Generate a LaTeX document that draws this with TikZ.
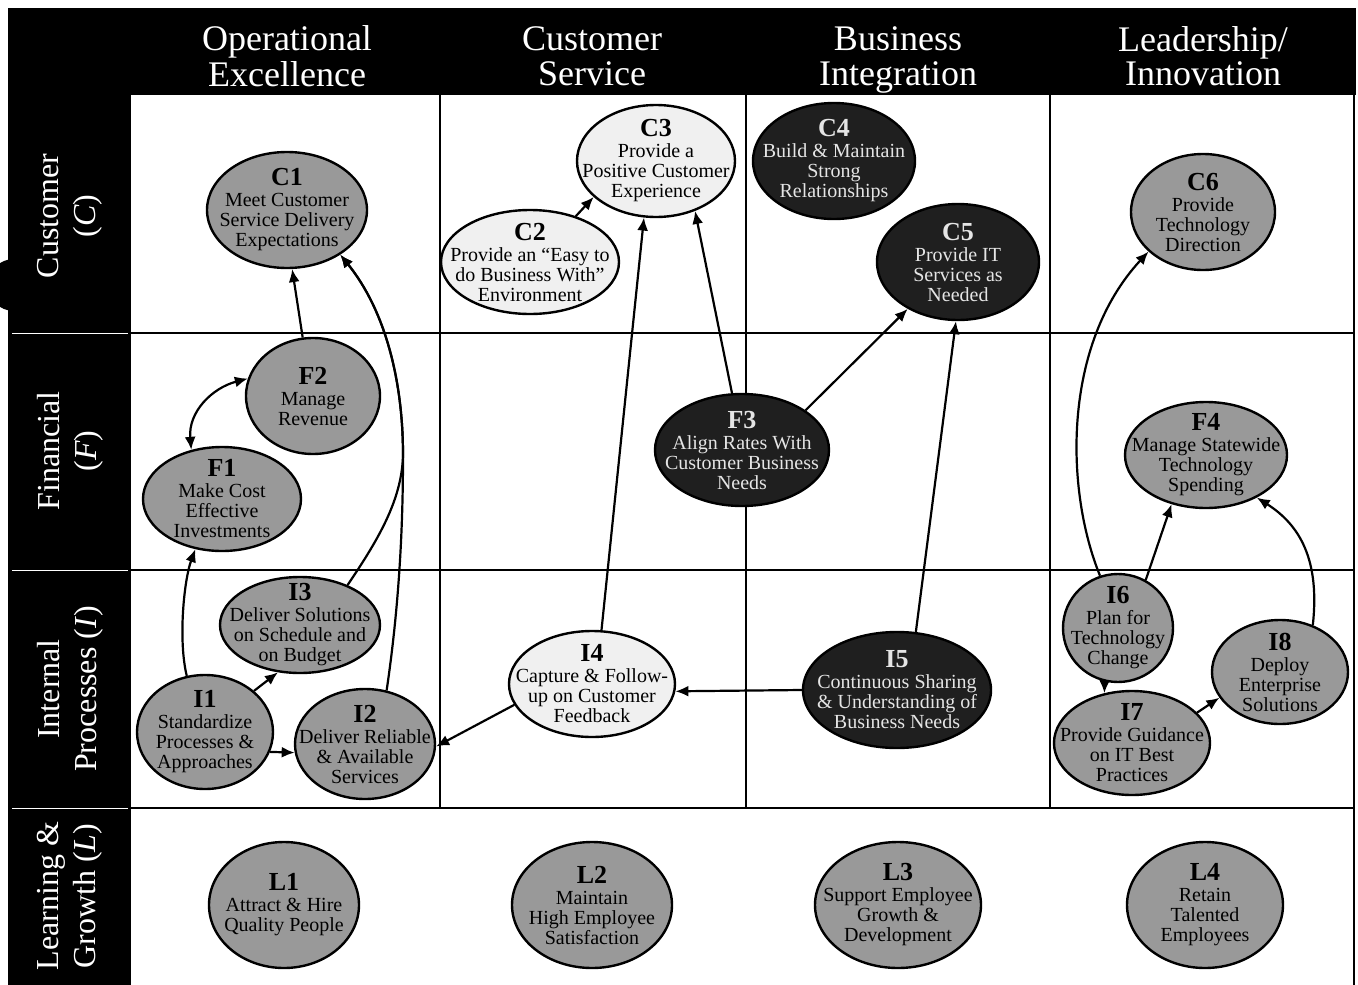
\documentclass[tikz,border=0pt]{standalone}
\usepackage{fontspec}
\setmainfont{Liberation Serif}
\usetikzlibrary{shapes.geometric,arrows.meta}
\newcommand{\lb}[1]{{\fontsize{26}{26}\selectfont\bfseries #1}\\[1pt]}
\begin{document}
\begin{tikzpicture}[x=1pt,y=-1pt,
  obj/.style={ellipse, draw=black, line width=2.4pt, inner sep=0pt},
  midnode/.style={obj, fill=black!40},
  darknode/.style={obj, fill=black!88},
  lightnode/.style={obj, fill=black!6},
  sz/.style 2 args={minimum width=#1pt, minimum height=#2pt},
  txt/.style={align=center, inner sep=0pt, font=\fontsize{20}{20}\selectfont},
  txtd/.style={txt, text=black!10},
  arr/.style={line width=2.2pt, -{Latex[length=13pt,width=11pt]}},
  darr/.style={line width=2.2pt, {Latex[length=13pt,width=11pt]}-{Latex[length=13pt,width=11pt]}},
  gridline/.style={line width=1.4pt},
  hdr/.style={text=white, font=\fontsize{36}{33}\selectfont, align=center, inner sep=0pt},
  rowlab/.style={text=white, font=\fontsize{32}{37}\selectfont, align=center, rotate=90, inner sep=0pt}
]
\useasboundingbox (0,0) rectangle (1358,985);
\fill[white] (0,0) rectangle (1358,985);

% header band and left column
\fill[black] (8,8) rectangle (1356,95);
\fill[black] (8,95) rectangle (129,985);
\fill[black] (14,285) circle (26);
\foreach \yy in {333,570,808} \draw[white, line width=1pt] (12,\yy) -- (128,\yy);

% grid
\draw[gridline] (130,95) -- (130,985);
\draw[gridline] (1354,95) -- (1354,985);
\foreach \yy in {333,570,808} \draw[gridline] (129,\yy) -- (1354,\yy);
\foreach \xx in {440,746,1050} \draw[gridline] (\xx,95) -- (\xx,808);

% headers
\node[hdr] (h1) at (287,61) {Operational\strut\\Excellence\strut};
\node[hdr] (h2) at (592,61) {Customer\strut\\Service\strut};
\node[hdr] (h3) at (898,61) {Business\strut\\Integration\strut};
\node[hdr] (h4) at (1203,61) {Leadership/\strut\\Innovation\strut};

% row labels
\node[rowlab] (r1) at (70,216) {Customer\\(\textit{C})};
\node[rowlab] (r2) at (70,451) {Financial\\(\textit{F})};
\node[rowlab] (r3) at (70,689) {Internal\\Processes (\textit{I})};
\node[rowlab] (r4) at (70,896) {Learning \&\\Growth (\textit{L})};

% customer row
\node[midnode, sz={160}{116}] (C1) at (287,210) {};
\node[txt] (C1t) at (C1) {\lb{C1}Meet Customer\\Service Delivery\\Expectations};
\node[lightnode, sz={178}{104}] (C2) at (530,262) {};
\node[txt] (C2t) at (C2) {\lb{C2}Provide an “Easy to\\do Business With”\\Environment};
\node[lightnode, sz={158}{112}] (C3) at (656,161) {};
\node[txt] (C3t) at (C3) {\lb{C3}Provide a\\Positive Customer\\Experience};
\node[darknode, sz={162}{116}] (C4) at (834,161) {};
\node[txtd] (C4t) at (C4) {\lb{C4}Build \& Maintain\\Strong\\Relationships};
\node[darknode, sz={162}{116}] (C5) at (958,262) {};
\node[txtd] (C5t) at (C5) {\lb{C5}Provide IT\\Services as\\Needed};
\node[midnode, sz={144}{116}] (C6) at (1203,212) {};
\node[txt] (C6t) at (C6) {\lb{C6}Provide\\Technology\\Direction};

% financial row
\node[midnode, sz={158}{104}] (F1) at (222,499) {};
\node[txt] (F1t) at (F1) {\lb{F1}Make Cost\\Effective\\Investments};
\node[midnode, sz={134}{116}] (F2) at (313,396) {};
\node[txt] (F2t) at (F2) {\lb{F2}Manage\\Revenue};
\node[darknode, sz={174}{112}] (F3) at (742,450) {};
\node[txtd] (F3t) at (F3) {\lb{F3}Align Rates With\\Customer Business\\Needs};
\node[midnode, sz={162}{106}] (F4) at (1206,455) {};
\node[txt] (F4t) at (F4) {\lb{F4}Manage Statewide\\Technology\\Spending};

% internal processes row
\node[midnode, sz={136}{114}] (I1) at (205,732) {};
\node[txt] (I1t) at (I1) {\lb{I1}Standardize\\Processes \&\\Approaches};
\node[midnode, sz={140}{110}] (I2) at (365,744) {};
\node[txt] (I2t) at (I2) {\lb{I2}Deliver Reliable\\\& Available\\Services};
\node[midnode, sz={160}{96}] (I3) at (300,625) {};
\node[txt] (I3t) at (I3) {\lb{I3}Deliver Solutions\\on Schedule and\\on Budget};
\node[lightnode, sz={166}{106}] (I4) at (592,684) {};
\node[txt] (I4t) at (I4) {\lb{I4}Capture \& Follow-\\up on Customer\\Feedback};
\node[darknode, sz={188}{116}] (I5) at (897,690) {};
\node[txtd] (I5t) at (I5) {\lb{I5}Continuous Sharing\\\& Understanding of\\Business Needs};
\node[midnode, sz={110}{108}] (I6) at (1118,628) {};
\node[txt] (I6t) at (I6) {\lb{I6}Plan for\\Technology\\Change};
\node[midnode, sz={156}{104}] (I7) at (1132,743) {};
\node[txt] (I7t) at (I7) {\lb{I7}Provide Guidance\\on IT Best\\Practices};
\node[midnode, sz={136}{104}] (I8) at (1280,672) {};
\node[txt] (I8t) at (I8) {\lb{I8}Deploy\\Enterprise\\Solutions};

% learning row
\node[midnode, sz={150}{126}] (L1) at (284,905) {};
\node[txt] (L1t) at (L1) {\lb{L1}Attract \& Hire\\Quality People};
\node[midnode, sz={160}{126}] (L2) at (592,905) {};
\node[txt] (L2t) at (L2) {\lb{L2}Maintain\\High Employee\\Satisfaction};
\node[midnode, sz={166}{126}] (L3) at (898,905) {};
\node[txt] (L3t) at (L3) {\lb{L3}Support Employee\\Growth \&\\Development};
\node[midnode, sz={156}{126}] (L4) at (1205,905) {};
\node[txt] (L4t) at (L4) {\lb{L4}Retain\\Talented\\Employees};

% connectors
\draw[arr] (F2.100) -- (C1.-85);
\draw[arr] (I2.68) .. controls (400,600) and (403,520) .. (403,455) .. controls (403,380) and (385,310) .. (C1.-40);
\draw[arr] (I3.40) .. controls (378,540) and (402,500) .. (403,455) .. controls (403,380) and (385,310) .. (C1.-40);
\draw[darr] (F1.122) .. controls (188,412) and (212,388) .. (F2.165);
\draw[arr] (I1.108) .. controls (178,640) and (184,580) .. (F1.-118);
\draw[arr] (I1.40) -- (I3.-115);
\draw[arr] (I1.-17) -- (I2.187);
\draw[arr] (I4.195) -- (I2.-2);
\draw[arr] (I4.80) -- (C3.-102);
\draw[arr] (F3.100) -- (C3.-52);
\draw[arr] (C2.45) -- (C3.210);
\draw[arr] (F3.32) -- (C5.-137);
\draw[arr] (I5.72) -- (C5.-92);
\draw[arr] (I5.west) -- (I4.-5);
\draw[arr] (I6.109) .. controls (1065,490) and (1062,345) .. (C6.216);
\draw[arr] (I6.60) -- (F4.-125);
\draw[arr] (I8.55) .. controls (1320,560) and (1300,525) .. (F4.-40);
\draw[arr] (I6.-104) -- (I7.119);
\draw[arr] (I7.25) -- (I8.203);
\end{tikzpicture}
\end{document}
